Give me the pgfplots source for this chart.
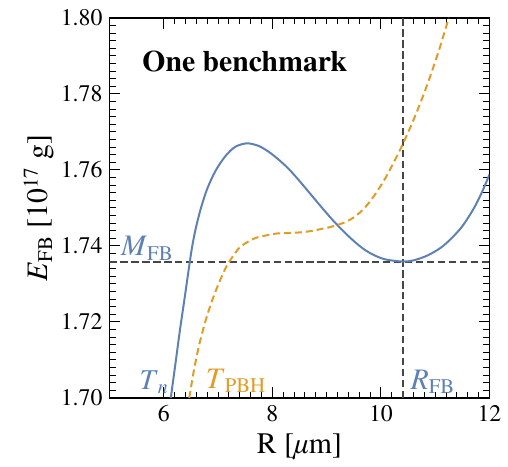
\documentclass[border=0pt]{standalone}
\usepackage{fontspec}
\setmainfont{texgyretermes}[Extension=.otf, UprightFont=*-regular, BoldFont=*-bold, ItalicFont=*-italic, BoldItalicFont=*-bolditalic]
\usepackage{amsmath}
\usepackage{pgfplots}
\pgfplotsset{compat=1.18}
\usetikzlibrary{calc}

\definecolor{mblue}{RGB}{94,129,181}
\definecolor{morange}{RGB}{225,156,36}
\definecolor{dgray}{RGB}{70,70,70}

\begin{document}
\begin{tikzpicture}
\begin{axis}[
  name=ax,
  scale only axis, width=191bp, height=191bp,
  xmin=5, xmax=12, ymin=1.70, ymax=1.80,
  xtick={6,8,10,12}, ytick={1.70,1.72,1.74,1.76,1.78,1.80},
  minor x tick num=9, minor y tick num=9,
  tick align=inside, ticks=both,
  major tick length=5.5bp, minor tick length=3.2bp,
  every tick/.style={black, line width=0.5bp},
  axis line style={line width=0.8bp},
  /pgf/number format/assume math mode=true,
  yticklabel style={/pgf/number format/.cd, fixed, fixed zerofill, precision=2},
  xticklabel style={/pgf/number format/.cd, fixed},
  tick label style={font=\fontsize{12}{14}\selectfont},
  label style={font=\fontsize{15}{17}\selectfont},
  xlabel={R [\textit{µ}m]},
  ylabel={\textit{E}\textsubscript{FB} [10\textsuperscript{17} g]},
  xlabel style={at={(axis description cs:0.5,-0.147)}, anchor=base},
  ylabel style={at={(axis description cs:-0.162,0.5)}, anchor=base},
  clip=true,
]
% threshold lines
\addplot[dgray, line width=1bp, dash pattern=on 3.7bp off 1.8bp] coordinates {(5,1.7358) (12,1.7358)};
\addplot[dgray, line width=1bp, dash pattern=on 3.7bp off 1.8bp] coordinates {(10.4,1.70) (10.4,1.80)};
% T_n
\addplot[mblue, line width=1bp, smooth, tension=0.5] coordinates {
(6.13,1.700) (6.22,1.7095) (6.30,1.7180) (6.39,1.7268) (6.478,1.7356) (6.527,1.7401)
(6.588,1.7445) (6.68,1.7497) (6.80,1.7550) (6.955,1.7598) (7.14,1.7637) (7.32,1.7661)
(7.535,1.7670) (7.75,1.7663) (7.93,1.7648) (8.10,1.7629) (8.30,1.7603) (8.50,1.7571)
(8.70,1.7537) (8.90,1.7503) (9.10,1.7470) (9.30,1.7440) (9.50,1.7413) (9.70,1.7390)
(9.90,1.7374) (10.10,1.7364) (10.40,1.7359) (10.60,1.7362) (10.86,1.7375) (11.10,1.7395)
(11.30,1.7420) (11.50,1.7452) (11.70,1.7496) (11.85,1.7538) (12.00,1.7588)};
% T_PBH
\addplot[morange, line width=1bp, smooth, tension=0.5, dash pattern=on 3.5bp off 2bp] coordinates {
(6.47,1.700) (6.55,1.7068) (6.65,1.7138) (6.77,1.7203) (6.89,1.7256) (7.03,1.7307)
(7.17,1.7350) (7.38,1.7393) (7.54,1.7410) (7.69,1.7421) (7.93,1.7429)
(8.10,1.7433) (8.30,1.7434) (8.54,1.7436) (8.75,1.7440) (8.91,1.7445) (9.05,1.7449)
(9.215,1.7456) (9.35,1.7463) (9.52,1.7477) (9.70,1.7500) (9.89,1.7535) (10.08,1.7578)
(10.28,1.7632) (10.40,1.7667) (10.56,1.7718) (10.74,1.7781) (10.90,1.7843) (11.07,1.7915)
(11.25,1.800)};
\node[anchor=base west, inner sep=0pt, font=\fontsize{15}{17}\selectfont\bfseries] at (axis cs:5.6,1.7859) {One benchmark};
\node[anchor=base west, inner sep=0pt, text=mblue, font=\fontsize{15}{17}\selectfont] at (axis cs:5.21,1.7374) {\textit{M}\textsubscript{FB}};
\node[anchor=base west, inner sep=0pt, text=mblue, font=\fontsize{14.5}{17}\selectfont] at (axis cs:5.55,1.7023) {\textit{T}\textsubscript{\textit{n}}};
\node[anchor=base west, inner sep=0pt, text=morange, font=\fontsize{15}{17}\selectfont] at (axis cs:6.77,1.7026) {\textit{T}\textsubscript{PBH}};
\node[anchor=base west, inner sep=0pt, text=mblue, font=\fontsize{15}{17}\selectfont] at (axis cs:10.54,1.7023) {\textit{R}\textsubscript{FB}};
\end{axis}
\path ($(ax.south west)+(-55bp,-32.5bp)$) rectangle ($(ax.north east)+(8bp,9bp)$);
\end{tikzpicture}
\end{document}
